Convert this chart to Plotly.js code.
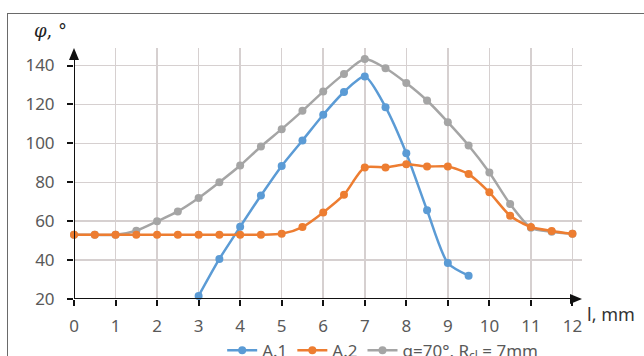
<!DOCTYPE html>
<html><head><meta charset="utf-8">
<script src="https://cdn.plot.ly/plotly-3.0.1.min.js"></script>
<style>
html,body{margin:0;padding:0;background:#fff;overflow:hidden;}
#frame{position:absolute;left:7px;top:13px;width:800px;height:500px;border:1.5px solid #6a6a6a;box-sizing:border-box;}
#chart{position:absolute;left:0;top:0;width:644px;height:356px;}
</style></head>
<body>
<div id="frame"></div>
<div id="chart"></div>
<script>
const xA1 = [3, 3.5, 4, 4.5, 5, 5.5, 6, 6.5, 7, 7.5, 8, 8.5, 9, 9.5];
const yA1 = [21.6, 40.6, 57.1, 73.2, 88.4, 101.5, 114.7, 126.4, 134.3, 118.6, 94.9, 65.6, 38.5, 32];
const xA2 = [0, 0.5, 1, 1.5, 2, 2.5, 3, 3.5, 4, 4.5, 5, 5.5, 6, 6.5, 7, 7.5, 8, 8.5, 9, 9.5, 10, 10.5, 11, 11.5, 12];
const yA2 = [53, 53, 53, 53, 53, 53, 53, 53, 53, 53, 53.5, 57, 64.5, 73.6, 87.6, 87.6, 89.3, 88.1, 88.1, 84.2, 74.8, 62.8, 57, 55, 53.5];
const xA3 = [0, 0.5, 1, 1.5, 2, 2.5, 3, 3.5, 4, 4.5, 5, 5.5, 6, 6.5, 7, 7.5, 8, 8.5, 9, 9.5, 10, 10.5, 11, 11.5, 12];
const yA3 = [53, 53, 53, 55.1, 59.9, 65, 71.9, 80, 88.6, 98.4, 107.3, 116.7, 126.6, 135.7, 143.3, 138.6, 131, 122, 110.9, 98.9, 85, 68.8, 56.6, 54.6, 53.5];
const names = ["A.1", "A.2", "α=70°, R<sub>cl</sub> = 7mm"];
const colors = ["#5b9bd5", "#ed7d31", "#a5a5a5"];
const xTicks = [0,1,2,3,4,5,6,7,8,9,10,11,12];
const yTicks = [20,40,60,80,100,120,140];

function tr(x, y, i){
  return {x:x, y:y, name:names[i], legendrank:i+1, type:'scatter', mode:'lines+markers', cliponaxis:false,
    line:{color:colors[i], width:2.5, shape:'spline', smoothing:0.7},
    marker:{color:colors[i], size:8}};
}
const data = [tr(xA3,yA3,2), tr(xA1,yA1,0), tr(xA2,yA2,1)];
const layout = {
  width:644, height:356,
  margin:{l:74, r:62, t:48, b:57},
  paper_bgcolor:'rgba(0,0,0,0)', plot_bgcolor:'rgba(0,0,0,0)',
  font:{family:'Noto Sans, sans-serif', color:'#595959', size:17},
  showlegend:true,
  legend:{orientation:'h', x:0.345, xanchor:'left', xref:'container', yref:'container', y:0.015, yanchor:'middle',
    font:{size:17, color:'#595959'}, itemwidth:30, bgcolor:'rgba(0,0,0,0)'},
  xaxis:{range:[0,12.23], tickvals:xTicks, ticktext:xTicks.map(String), showgrid:true, automargin:false,
    gridcolor:'#d6d0d0', gridwidth:1.5, zeroline:false, showline:false,
    ticks:'outside', ticklen:6, tickwidth:2, tickcolor:'#111', ticklabelstandoff:6},
  yaxis:{range:[20,149], tickvals:yTicks, ticktext:yTicks.map(String), showgrid:true, automargin:false,
    gridcolor:'#d6d0d0', gridwidth:1.5, zeroline:false, showline:false,
    ticks:'outside', ticklen:6, tickwidth:2, tickcolor:'#111', ticklabelstandoff:9},
  shapes:[
    {type:'line', xref:'x', yref:'y', x0:0, x1:0, y0:20, y1:146, line:{color:'#111', width:2}},
    {type:'line', xref:'x', yref:'y', x0:0, x1:12.0, y0:20, y1:20, line:{color:'#111', width:2}},
    {type:'path', xref:'paper', yref:'paper', xsizemode:'pixel', ysizemode:'pixel', xanchor:0, yanchor:1,
      path:'M-5,-12 L5,-12 L0,0 Z', fillcolor:'#111', line:{width:0}},
    {type:'path', xref:'paper', yref:'paper', xsizemode:'pixel', ysizemode:'pixel', xanchor:1, yanchor:0,
      path:'M-12,-5 L-12,5 L0,0 Z', fillcolor:'#111', line:{width:0}}
  ],
  annotations:[
    {xref:'paper', yref:'paper', x:-0.082, y:1.07, xanchor:'left', yanchor:'middle', showarrow:false,
      text:'<i>φ</i>, °', font:{size:18, color:'#222', family:'DejaVu Serif, serif'}},
    {xref:'paper', yref:'paper', x:1.005, y:-0.06, xanchor:'left', yanchor:'middle', showarrow:false,
      text:'l, mm', font:{size:18, color:'#333'}}
  ]
};
Plotly.newPlot('chart', data, layout, {displayModeBar:false, staticPlot:true});
</script>
</body></html>
